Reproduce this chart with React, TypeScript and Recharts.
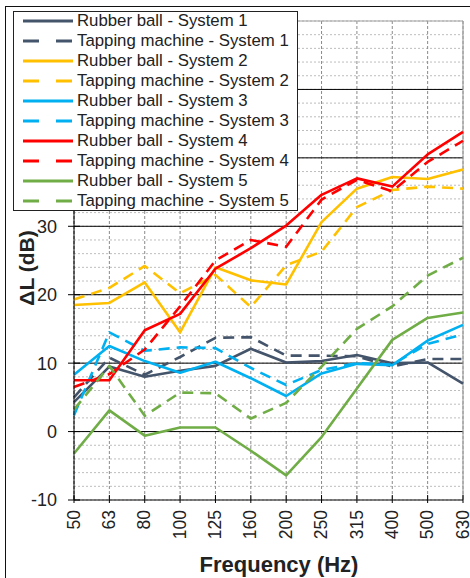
import React from 'react';
import { LineChart, Line, XAxis, YAxis, CartesianGrid, ReferenceLine } from 'recharts';

const frequencies = ['50', '63', '80', '100', '125', '160', '200', '250', '315', '400', '500', '630'];

const rubberBall1 = [4.3, 9.5, 8.0, 8.9, 9.6, 12.1, 10.1, 10.3, 11.2, 10.0, 10.1, 7.0];
const tapping1 = [5.0, 10.8, 8.3, 10.9, 13.7, 13.8, 11.1, 11.1, 11.0, 9.5, 10.6, 10.6];
const rubberBall2 = [18.5, 18.8, 21.8, 14.5, 24.0, 22.1, 21.5, 30.6, 35.5, 37.2, 36.9, 38.3];
const tapping2 = [19.3, 21.0, 24.2, 20.2, 22.9, 18.2, 24.3, 26.3, 32.8, 35.3, 35.8, 35.5];
const rubberBall3 = [8.3, 12.5, 10.3, 8.6, 10.2, 7.8, 5.2, 8.5, 9.9, 9.7, 13.3, 15.6];
const tapping3 = [2.4, 14.5, 11.8, 12.3, 12.2, 9.3, 6.8, 9.0, 10.0, 9.8, 12.8, 14.2];
const rubberBall4 = [7.5, 7.5, 14.8, 17.2, 23.8, 26.8, 30.1, 34.6, 37.0, 35.8, 40.5, 43.8];
const tapping4 = [6.5, 8.4, 12.0, 18.3, 25.0, 28.0, 27.0, 33.9, 36.8, 35.1, 39.4, 42.5];
const rubberBall5 = [-3.2, 3.1, -0.6, 0.6, 0.6, -2.8, -6.4, -0.8, 6.3, 13.4, 16.6, 17.4];
const tapping5 = [3.2, 9.6, 2.3, 5.7, 5.6, 1.9, 4.2, 9.5, 15.0, 18.3, 22.8, 25.4];

const majorTicks = [-10, 0, 10, 20, 30, 40, 50, 60];
const gridTicks = [-10, -8, -6, -4, -2, 0, 2, 4, 6, 8, 10, 12, 14, 16, 18, 20, 22, 24, 26, 28, 30, 32, 34, 36, 38, 40, 42, 44, 46, 48, 50, 52, 54, 56, 58, 60];

const seriesDefs = [
  { key: 'rb1', name: 'Rubber ball - System 1', values: rubberBall1, color: '#44546A', dashed: false },
  { key: 'tm1', name: 'Tapping machine - System 1', values: tapping1, color: '#44546A', dashed: true },
  { key: 'rb2', name: 'Rubber ball - System 2', values: rubberBall2, color: '#FFC000', dashed: false },
  { key: 'tm2', name: 'Tapping machine - System 2', values: tapping2, color: '#FFC000', dashed: true },
  { key: 'rb3', name: 'Rubber ball - System 3', values: rubberBall3, color: '#00B0F0', dashed: false },
  { key: 'tm3', name: 'Tapping machine - System 3', values: tapping3, color: '#00B0F0', dashed: true },
  { key: 'rb4', name: 'Rubber ball - System 4', values: rubberBall4, color: '#FF0000', dashed: false },
  { key: 'tm4', name: 'Tapping machine - System 4', values: tapping4, color: '#FF0000', dashed: true },
  { key: 'rb5', name: 'Rubber ball - System 5', values: rubberBall5, color: '#70AD47', dashed: false },
  { key: 'tm5', name: 'Tapping machine - System 5', values: tapping5, color: '#70AD47', dashed: true },
];

const data = frequencies.map((f, i) => {
  const row: Record<string, any> = { freq: f };
  seriesDefs.forEach((s) => {
    row[s.key] = s.values[i];
  });
  return row;
});

const FONT = '"Liberation Sans", Arial, sans-serif';
const TEXT_COLOR = '#222';

const YTick = (props: any) => {
  const { x, y, payload } = props;
  const v = payload.value;
  if (!majorTicks.includes(v)) return <g />;
  return (
    <g>
      <line x1={x - 6} x2={x + 6} y1={y} y2={y} stroke="#000" strokeWidth={1} />
      <text x={x - 17} y={y} dy="0.36em" textAnchor="end" fontFamily={FONT} fontSize={18} fill={TEXT_COLOR}>
        {v}
      </text>
    </g>
  );
};

const XTick = (props: any) => {
  const { x, y, payload } = props;
  const ty = y + 10;
  return (
    <g>
      <line x1={x} x2={x} y1={y - 5} y2={y + 3} stroke="#000" strokeWidth={1} />
      <text
        x={x}
        y={ty}
        dy="0.32em"
        textAnchor="end"
        transform={`rotate(-90, ${x}, ${ty})`}
        fontFamily={FONT}
        fontSize={17.5}
        fill={TEXT_COLOR}
      >
        {payload.value}
      </text>
    </g>
  );
};

const LegendBox = () => (
  <div
    style={{
      position: 'absolute',
      left: 13,
      top: 11,
      width: 285,
      height: 200,
      boxSizing: 'border-box',
      border: '1.5px solid #222',
      background: '#fff',
    }}
  >
    {seriesDefs.map((s, i) => (
      <div
        key={s.key}
        style={{
          position: 'absolute',
          left: 0,
          top: -1.5 + 20 * i,
          height: 20,
          width: 283,
        }}
      >
        <svg width={52} height={20} style={{ position: 'absolute', left: 8, top: 0 }}>
          <line
            x1={1}
            x2={51}
            y1={10}
            y2={10}
            stroke={s.color}
            strokeWidth={3}
            strokeDasharray={s.dashed ? '16 17' : undefined}
          />
        </svg>
        <div
          style={{
            position: 'absolute',
            left: 63,
            top: 0,
            lineHeight: '20px',
            fontFamily: FONT,
            fontSize: 16.8,
            color: TEXT_COLOR,
            whiteSpace: 'nowrap',
          }}
        >
          {s.name}
        </div>
      </div>
    ))}
  </div>
);

export default function App() {
  return (
    <div
      style={{
        position: 'absolute',
        left: 0,
        top: 0,
        width: 470,
        height: 578,
        overflow: 'hidden',
        background: '#fff',
      }}
    >
      <div
        style={{
          position: 'absolute',
          left: 5,
          top: 6,
          width: 500,
          height: 600,
          border: '1.5px solid #111',
        }}
      />
      <div style={{ position: 'absolute', left: 0, top: 0 }}>
        <LineChart width={470} height={578} data={data} margin={{ top: 21, right: 7, bottom: 0, left: 0 }}>
          <CartesianGrid horizontal={true} vertical={false} stroke="#bdbdbd" strokeDasharray="2 2" />
          <CartesianGrid horizontal={false} vertical={true} stroke="#8a8a8a" strokeDasharray="3 2" />
          {majorTicks
            .filter((v) => v > -10 && v < 60)
            .map((v) => (
              <ReferenceLine key={v} y={v} stroke="#000" strokeWidth={1} />
            ))}
          <ReferenceLine y={60} stroke="#a0a0a0" strokeWidth={1.2} />
          <ReferenceLine x="630" stroke="#a0a0a0" strokeWidth={1.2} />
          <XAxis
            dataKey="freq"
            type="category"
            interval={0}
            height={78}
            tickSize={0}
            tickMargin={0}
            tickLine={false}
            axisLine={{ stroke: '#000', strokeWidth: 1 }}
            tick={<XTick />}
          />
          <YAxis
            type="number"
            domain={[-10, 60]}
            ticks={gridTicks}
            interval={0}
            width={74}
            tickSize={0}
            tickMargin={0}
            tickLine={false}
            axisLine={{ stroke: '#000', strokeWidth: 1 }}
            tick={<YTick />}
          />
          {seriesDefs.map((s) => (
            <Line
              key={s.key}
              type="linear"
              dataKey={s.key}
              name={s.name}
              stroke={s.color}
              strokeWidth={2.6}
              strokeDasharray={s.dashed ? '11 7' : undefined}
              strokeLinejoin="round"
              dot={false}
              activeDot={false}
              isAnimationActive={false}
            />
          ))}
        </LineChart>
      </div>
      <LegendBox />
      <div
        style={{
          position: 'absolute',
          left: 27 - 70,
          top: 268 - 13,
          width: 140,
          height: 26,
          lineHeight: '26px',
          textAlign: 'center',
          transform: 'rotate(-90deg)',
          fontFamily: FONT,
          fontWeight: 'bold',
          fontSize: 21,
          color: TEXT_COLOR,
          whiteSpace: 'nowrap',
        }}
      >
        ΔL (dB)
      </div>
      <div
        style={{
          position: 'absolute',
          left: 279 - 110,
          top: 565 - 14,
          width: 220,
          height: 28,
          lineHeight: '28px',
          textAlign: 'center',
          fontFamily: FONT,
          fontWeight: 'bold',
          fontSize: 22,
          color: TEXT_COLOR,
          whiteSpace: 'nowrap',
        }}
      >
        Frequency (Hz)
      </div>
    </div>
  );
}
